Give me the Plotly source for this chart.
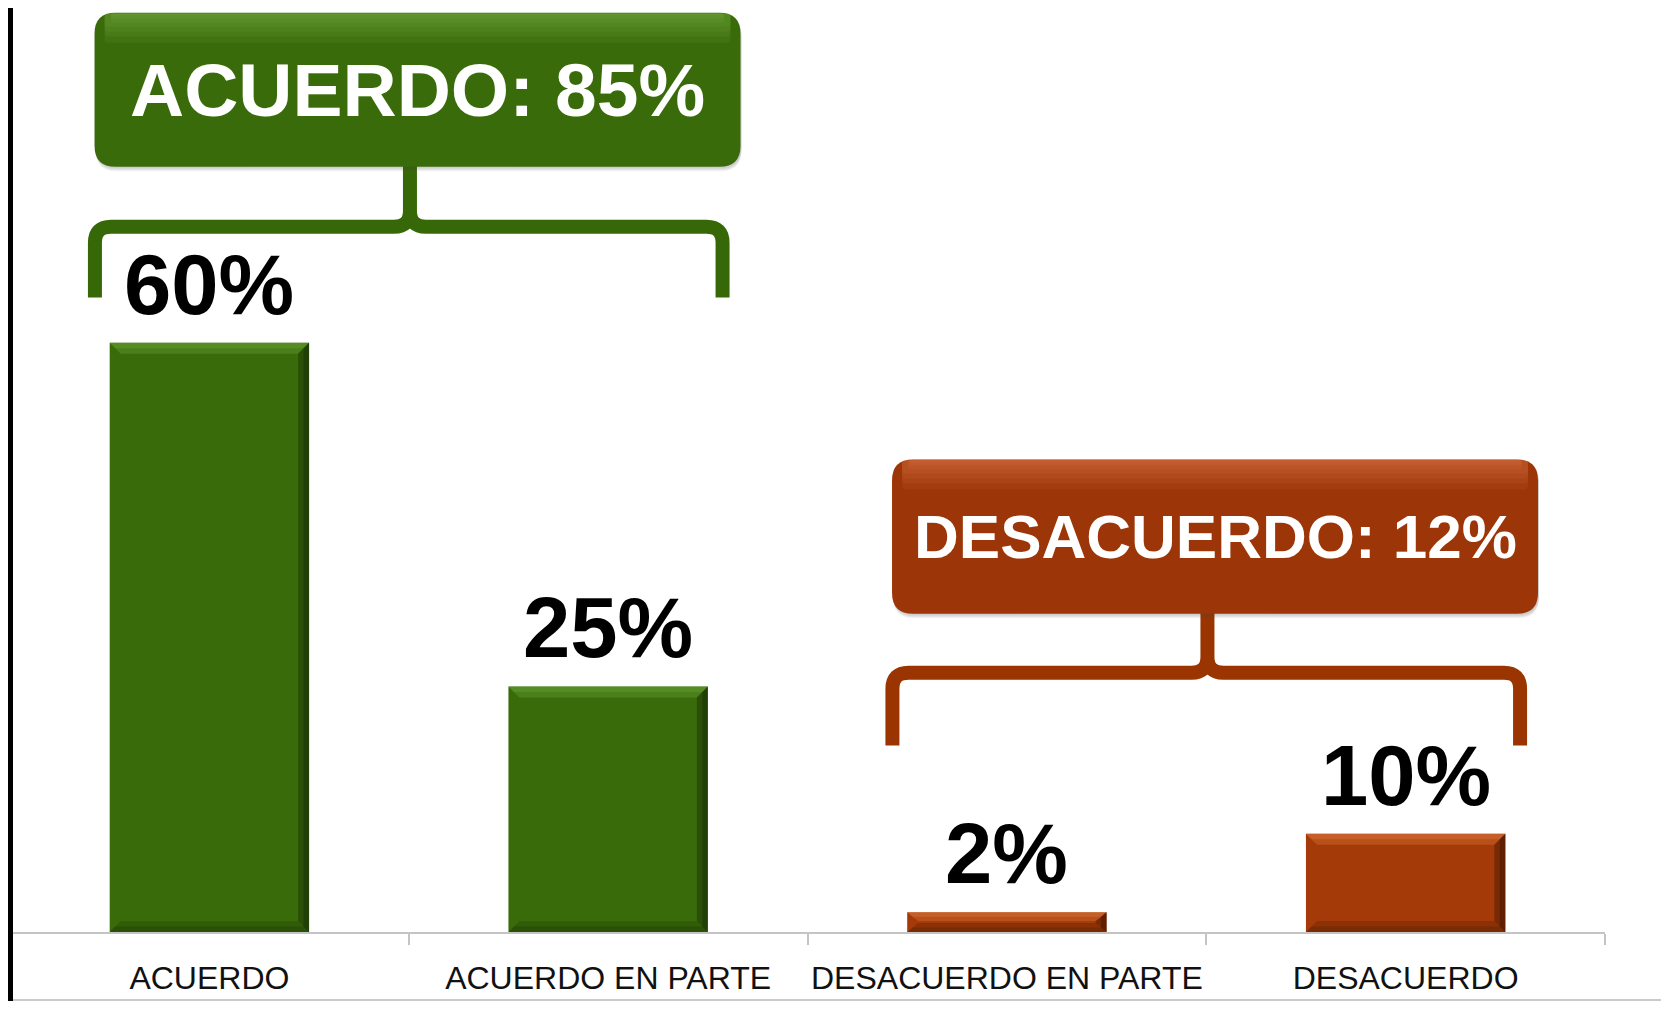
import plotly.graph_objects as go

# ---------------- data ----------------
categories = ["ACUERDO", "ACUERDO EN PARTE", "DESACUERDO EN PARTE", "DESACUERDO"]
values = [60, 25, 2, 10]
group_names = ["ACUERDO", "DESACUERDO"]
group_members = [[0, 1], [2, 3]]

# ---------------- style ----------------
GREEN_BAR = "#3A6B0A"
ORANGE_BAR = "#A33A08"
group_bar_colors = [GREEN_BAR, ORANGE_BAR]
group_bar_light = ["#6DA53A", "#E07A40"]
group_bar_dark = ["#132803", "#3A1200"]
group_box_colors = ["#3A6B0A", "#9C3507"]
group_box_light = ["#8CC858", "#F29060"]
group_brace_colors = ["#376808", "#9A3400"]
group_font_sizes = [75, 62]
# vertical layout of callouts (in axis units)
brace_level = [71.8, 26.4]
brace_end = [64.6, 19.0]
box_bottom = [77.9, 32.4]
box_top = [93.6, 48.1]
brace_half = 0.787
box_half = 0.81
box_shift = 0.022
BAR_WIDTH = 0.5

FONT = "Liberation Sans, Arial, Helvetica, sans-serif"
W, H = 1653, 993
ML, MR, MT, MB = 2, 56, 0, 69
PX_PER_UNIT = 9.822
Y_MAX = (H - MT - MB) / PX_PER_UNIT
X_PX_PER_UNIT = (W - ML - MR) / 4.0

bar_colors = [None] * len(values)
bar_group = [None] * len(values)
for g, members in enumerate(group_members):
    for m in members:
        bar_colors[m] = group_bar_colors[g]
        bar_group[m] = g

xs = list(range(len(categories)))

fig = go.Figure()
fig.add_trace(go.Bar(
    x=xs, y=values, width=BAR_WIDTH,
    marker=dict(color=bar_colors, line=dict(width=0)),
    hoverinfo="skip",
))

annotations = []
for x, v in zip(xs, values):
    annotations.append(dict(
        x=x, y=v, xref="x", yref="y", text=f"<b>{v}%</b>", showarrow=False,
        yanchor="bottom", xanchor="center", yshift=9,
        font=dict(family=FONT, size=85, color="#000000"),
    ))


def rrect(x0, x1, y0, y1, rx, ry):
    return (f"M {x0+rx},{y0} L {x1-rx},{y0} Q {x1},{y0} {x1},{y0+ry} "
            f"L {x1},{y1-ry} Q {x1},{y1} {x1-rx},{y1} L {x0+rx},{y1} "
            f"Q {x0},{y1} {x0},{y1-ry} L {x0},{y0+ry} Q {x0},{y0} {x0+rx},{y0} Z")


def brace(x0, x1, xm, yh, yend, ytop, rx, ry):
    return (f"M {x0},{yend} L {x0},{yh-ry} Q {x0},{yh} {x0+rx},{yh} "
            f"L {xm-rx},{yh} Q {xm},{yh} {xm},{yh+ry} L {xm},{ytop} "
            f"M {xm},{yh+ry} Q {xm},{yh} {xm+rx},{yh} "
            f"L {x1-rx},{yh} Q {x1},{yh} {x1},{yh-ry} L {x1},{yend}")


def poly(pts):
    return "M " + " L ".join(f"{a},{b}" for a, b in pts) + " Z"


shapes = []

# bevel effect on bars, derived from each bar's value
for x, v, g in zip(xs, values, bar_group):
    x0 = x - BAR_WIDTH / 2
    x1 = x + BAR_WIDTH / 2
    bx = 11 / X_PX_PER_UNIT
    by = min(11 / PX_PER_UNIT, v / 2.2)
    for k, op in enumerate([0.35, 0.35]):
        f = 1.0 - 0.5 * k
        shapes.append(dict(type="path", xref="x", yref="y", layer="above",
                           path=poly([(x0, v), (x1, v), (x1 - bx * f, v - by * f), (x0 + bx * f, v - by * f)]),
                           fillcolor=group_bar_light[g], opacity=op, line=dict(width=0)))
        shapes.append(dict(type="path", xref="x", yref="y", layer="above",
                           path=poly([(x1, v), (x1, 0), (x1 - bx * f, by * f), (x1 - bx * f, v - by * f)]),
                           fillcolor=group_bar_dark[g], opacity=op + 0.05, line=dict(width=0)))
        shapes.append(dict(type="path", xref="x", yref="y", layer="above",
                           path=poly([(x0, 0), (x1, 0), (x1 - bx * f, by * f), (x0 + bx * f, by * f)]),
                           fillcolor=group_bar_dark[g], opacity=op * 0.6, line=dict(width=0)))

rx_box = 21 / X_PX_PER_UNIT
ry_box = 21 / PX_PER_UNIT
for g, members in enumerate(group_members):
    total = sum(values[m] for m in members)
    center = sum(members) / len(members)
    # brace
    shapes.append(dict(
        type="path", xref="x", yref="y", layer="above",
        path=brace(center - brace_half, center + brace_half, center + 0.003,
                   brace_level[g], brace_end[g], box_bottom[g] + 0.3,
                   16 / X_PX_PER_UNIT, 16 / PX_PER_UNIT),
        line=dict(color=group_brace_colors[g], width=14),
        fillcolor="rgba(0,0,0,0)",
    ))
    bx0 = center + box_shift - box_half
    bx1 = center + box_shift + box_half
    # soft shadow
    for k in range(4):
        d = (k + 1.5) / PX_PER_UNIT
        shapes.append(dict(
            type="path", xref="x", yref="y", layer="above",
            path=rrect(bx0 + 1 / X_PX_PER_UNIT, bx1 + 1 / X_PX_PER_UNIT,
                       box_bottom[g] - d, box_top[g] - d, rx_box, ry_box),
            fillcolor="rgba(70,70,70,0.07)", line=dict(width=0),
        ))
    # box
    shapes.append(dict(
        type="path", xref="x", yref="y", layer="above",
        path=rrect(bx0, bx1, box_bottom[g], box_top[g], rx_box, ry_box),
        fillcolor=group_box_colors[g], line=dict(width=0),
    ))
    # top highlight bands (gradient imitation)
    for hpx in [30, 24, 19, 14, 10, 6, 3]:
        inset = 10 if hpx > 12 else 16
        shapes.append(dict(
            type="path", xref="x", yref="y", layer="above",
            path=rrect(bx0 + inset / X_PX_PER_UNIT, bx1 - inset / X_PX_PER_UNIT,
                       box_top[g] - hpx / PX_PER_UNIT, box_top[g] - 0.5 / PX_PER_UNIT,
                       4 / X_PX_PER_UNIT, min(4, hpx / 2) / PX_PER_UNIT),
            fillcolor=group_box_light[g], opacity=0.09, line=dict(width=0),
        ))
    annotations.append(dict(
        x=center + box_shift, y=(box_bottom[g] + box_top[g]) / 2, xref="x", yref="y",
        text=f"<b>{group_names[g]}: {total}%</b>", showarrow=False,
        xanchor="center", yanchor="middle",
        font=dict(family=FONT, size=group_font_sizes[g], color="#FFFFFF"),
    ))

# left black border and bottom frame line
plot_w = W - ML - MR
plot_h = H - MT - MB
shapes.append(dict(type="line", xref="paper", yref="paper",
                   x0=0.5 / plot_w, x1=0.5 / plot_w, y0=-MB / plot_h, y1=1.01,
                   line=dict(color="#000000", width=5)))
shapes.append(dict(type="line", xref="paper", yref="paper",
                   x0=3 / plot_w, x1=(W - ML) / plot_w,
                   y0=-(MB - 1) / plot_h, y1=-(MB - 1) / plot_h,
                   line=dict(color="#B8B8B8", width=1.5)))

fig.update_layout(
    width=W, height=H,
    margin=dict(l=ML, r=MR, t=MT, b=MB, pad=0),
    paper_bgcolor="#FFFFFF", plot_bgcolor="#FFFFFF",
    showlegend=False,
    bargap=0.5,
    xaxis=dict(
        range=[-0.5, 3.5], tickmode="array", tickvals=xs, ticktext=categories,
        showgrid=False, zeroline=False, showline=True, linecolor="#C4C4C4", linewidth=2,
        ticks="", ticklabelstandoff=17,
        tickfont=dict(family=FONT, size=32, color="#111111"),
        minor=dict(tickmode="linear", tick0=-0.5, dtick=1, ticks="outside",
                   ticklen=11, tickwidth=1.5, tickcolor="#C4C4C4", showgrid=False),
        fixedrange=True,
    ),
    yaxis=dict(range=[0, Y_MAX], visible=False, fixedrange=True),
    annotations=annotations,
    shapes=shapes,
)

fig.write_html("out.html")
